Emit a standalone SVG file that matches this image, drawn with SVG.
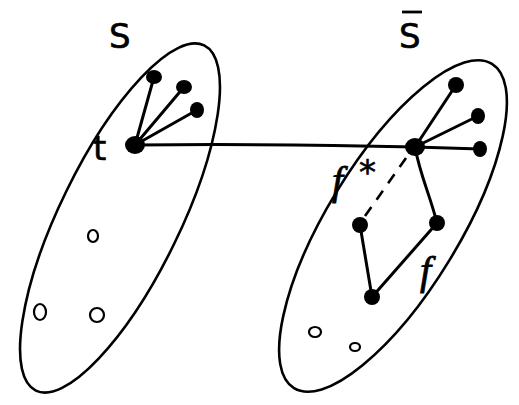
<svg xmlns="http://www.w3.org/2000/svg" width="519" height="405" viewBox="0 0 519 405">
<style>
.set{fill:none;stroke:#000;stroke-width:2.6}
.e{fill:none;stroke:#000;stroke-width:3;stroke-linecap:round}
.d{fill:none;stroke:#000;stroke-width:2.6;stroke-dasharray:11 9}
.n{fill:#000}
.o{fill:none;stroke:#000;stroke-width:2.2}
.lb{font-family:"DejaVu Sans",sans-serif;font-size:34px;fill:#000;stroke:#000;stroke-width:0.6}
.fl{font-family:"Liberation Serif",serif;font-style:italic;font-size:40px;fill:#000;stroke:#000;stroke-width:0.8}
</style>
<rect width="519" height="405" fill="#fff"/>
<g id="setS">
<ellipse class="set" cx="120" cy="218" rx="192" ry="60" transform="rotate(-64 120 218)"/>
<text class="lb" x="109" y="48">S</text>
</g>
<g id="setSbar">
<ellipse class="set" cx="393" cy="226" rx="190" ry="66" transform="rotate(-58.6 393 226)"/>
<text class="lb" x="399" y="48">S</text>
<line x1="402" y1="12" x2="422" y2="12" stroke="#000" stroke-width="2.8"/>
</g>
<g id="edges">
<path class="e" d="M135 145 C230 144 330 145 415 147"/>
<line class="e" x1="135" y1="145" x2="154" y2="77"/>
<line class="e" x1="135" y1="145" x2="184" y2="87"/>
<line class="e" x1="135" y1="145" x2="197" y2="110"/>
<line class="e" x1="415" y1="147" x2="456" y2="85"/>
<line class="e" x1="415" y1="147" x2="478" y2="116"/>
<line class="e" x1="415" y1="147" x2="480" y2="149"/>
<path class="e" d="M415 147 C420 175 430 195 437 223"/>
<line class="e" x1="437" y1="223" x2="372" y2="297"/>
<line class="e" x1="360" y1="225" x2="372" y2="297"/>
<line class="d" x1="406" y1="158" x2="365" y2="216"/>
</g>
<g id="t"><ellipse class="n" cx="135" cy="145" rx="10" ry="9"/><text class="lb" x="93" y="160" font-size="36">t</text></g>
<g id="s1"><ellipse class="n" cx="154" cy="77" rx="8" ry="7"/></g>
<g id="s2"><ellipse class="n" cx="184" cy="87" rx="8" ry="7"/></g>
<g id="s3"><ellipse class="n" cx="197" cy="110" rx="7" ry="8"/></g>
<g id="hub"><ellipse class="n" cx="415" cy="147" rx="10" ry="9"/></g>
<g id="r1"><ellipse class="n" cx="456" cy="85" rx="8" ry="8"/></g>
<g id="r2"><ellipse class="n" cx="478" cy="116" rx="7" ry="8"/></g>
<g id="r3"><ellipse class="n" cx="480" cy="149" rx="7" ry="8"/></g>
<g id="a"><ellipse class="n" cx="360" cy="225" rx="8" ry="8"/></g>
<g id="b"><ellipse class="n" cx="437" cy="223" rx="8" ry="8"/></g>
<g id="c"><ellipse class="n" cx="372" cy="297" rx="8" ry="8"/></g>
<g id="labels">
<text class="fl" x="332" y="194">f</text>
<text class="lb" x="359" y="184" font-size="26">*</text>
<text class="fl" x="420" y="284">f</text>
</g>
<g id="isolated">
<ellipse class="o" cx="93" cy="236" rx="5" ry="6"/>
<ellipse class="o" cx="40" cy="312" rx="6" ry="8"/>
<ellipse class="o" cx="97" cy="315" rx="7" ry="7"/>
<ellipse class="o" cx="315" cy="332" rx="6" ry="5"/>
<ellipse class="o" cx="355" cy="347" rx="5" ry="4"/>
</g>
</svg>
